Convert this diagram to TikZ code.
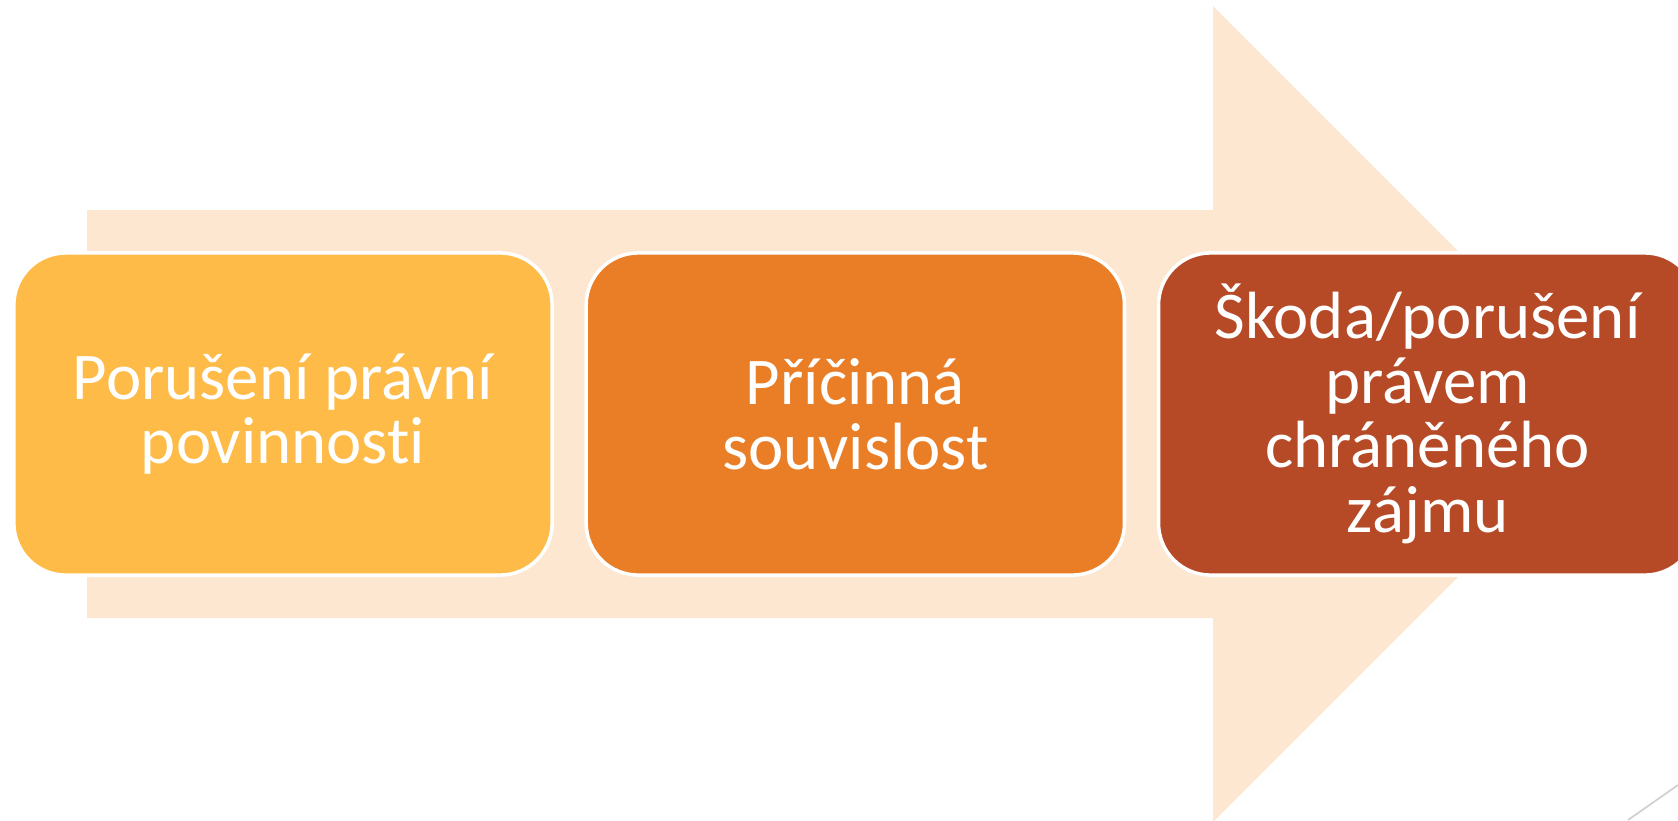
\documentclass[tikz,border=0pt]{standalone}
\usepackage{fontspec}
\setmainfont{Carlito}[Ligatures=NoCommon]
\usepackage{xcolor}
\usetikzlibrary{positioning}

\definecolor{peach}{HTML}{FDE7D1}
\definecolor{gold}{HTML}{FFBB48}
\definecolor{tangerine}{HTML}{EA7E27}
\definecolor{rust}{HTML}{B64A27}

\tikzset{
  stage/.style={draw=white, line width=1pt, outer sep=0pt, inner sep=0pt,
    rounded corners=0.52cm, minimum width=5.38cm, minimum height=3.22cm,
    text=white, align=center, font=\fontsize{19}{18.4}\selectfont}
}

\begin{document}
\begin{tikzpicture}[x=0.01cm, y=-0.01cm]
\useasboundingbox (0,0) rectangle (1678,820);
\clip (0,0) rectangle (1678,820);
\coordinate (tail top) at (87,210);
\coordinate (tail bottom) at (87,618);
\coordinate (tip) at (1621,414);
\fill [peach] (tail top) -- (1213,210) -- (1213,6) -- (tip) -- (1213,822) -- (1213,618) -- (tail bottom) -- cycle;
\node [stage, fill=gold] (duty) at (283,414) {Porušení právní\\povinnosti};
\node [stage, fill=tangerine, right=0.34cm of duty] (cause) {Příčinná\\souvislost};
\node [stage, fill=rust, right=0.34cm of cause] (harm) {Škoda/porušení\\právem\\chráněného\\zájmu};
\coordinate (line start) at (1628,820);
\coordinate (line end) at (1678,785);
\draw [black!18, line width=0.5pt] (line start) -- (line end);
\end{tikzpicture}
\end{document}
